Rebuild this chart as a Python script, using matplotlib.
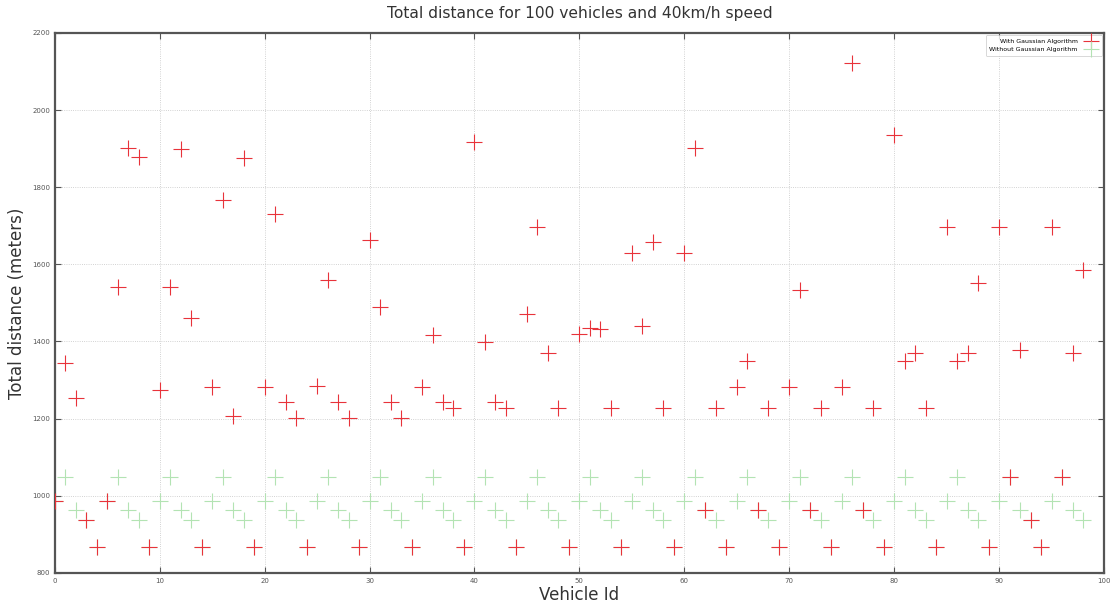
import matplotlib
matplotlib.use("Agg")
import matplotlib.pyplot as plt

# Vehicle ids and total travelled distance (meters) per vehicle
vehicle_ids = list(range(99))

dist_with = [
    987, 1344, 1254, 937, 867, 987, 1541, 1902, 1878, 867,
    1274, 1541, 1899, 1461, 867, 1282, 1767, 1207, 1876, 867,
    1282, 1731, 1243, 1202, 867, 1285, 1560, 1243, 1202, 867,
    1663, 1490, 1243, 1202, 867, 1282, 1417, 1243, 1228, 867,
    1917, 1399, 1243, 1228, 867, 1471, 1697, 1370, 1228, 867,
    1420, 1435, 1432, 1228, 867, 1630, 1440, 1658, 1228, 867,
    1630, 1902, 963, 1228, 867, 1282, 1350, 963, 1228, 867,
    1282, 1534, 963, 1228, 867, 1282, 2122, 963, 1228, 867,
    1936, 1350, 1370, 1228, 867, 1697, 1350, 1370, 1552, 867,
    1697, 1049, 1378, 937, 867, 1697, 1049, 1370, 1586,
]

dist_without = [
    987, 1049, 963, 937, 867, 987, 1049, 963, 937, 867,
    987, 1049, 963, 937, 867, 987, 1049, 963, 937, 867,
    987, 1049, 963, 937, 867, 987, 1049, 963, 937, 867,
    987, 1049, 963, 937, 867, 987, 1049, 963, 937, 867,
    987, 1049, 963, 937, 867, 987, 1049, 963, 937, 867,
    987, 1049, 963, 937, 867, 987, 1049, 963, 937, 867,
    987, 1049, 963, 937, 867, 987, 1049, 963, 937, 867,
    987, 1049, 963, 937, 867, 987, 1049, 963, 937, 867,
    987, 1049, 963, 937, 867, 987, 1049, 963, 937, 867,
    987, 1049, 963, 937, 867, 987, 1049, 963, 937,
]

series_labels = ["With Gaussian Algorithm", "Without Gaussian Algorithm"]
x_ticks = list(range(0, 101, 10))
y_ticks = list(range(800, 2201, 200))

fig = plt.figure(figsize=(11.18, 6.10), dpi=100)
ax = fig.add_axes([0.049, 0.061, 0.9385, 0.885])

ax.plot(vehicle_ids, dist_with, linestyle="none", marker="+", color="#e8333a",
        markersize=11, markeredgewidth=0.8, label=series_labels[0], zorder=3)
ax.plot(vehicle_ids, dist_without, linestyle="none", marker="+", color="#b3e3b3",
        markersize=11, markeredgewidth=0.8, label=series_labels[1], zorder=2)

ax.set_xlim(0, 100)
ax.set_ylim(800, 2200)
ax.set_xticks(x_ticks)
ax.set_yticks(y_ticks)
ax.tick_params(direction="in", length=4, width=0.8, labelsize=5,
               top=True, right=True, colors="#555555")
ax.grid(True, linestyle=":", linewidth=0.6, color="#c4c4c4")
for s in ax.spines.values():
    s.set_linewidth(1.6)
    s.set_color("#555555")

ax.set_title("Total distance for 100 vehicles and 40km/h speed", fontsize=11.2,
             color="#333333", pad=11)
ax.set_xlabel("Vehicle Id", fontsize=12, color="#333333", labelpad=2)
ax.set_ylabel("Total distance (meters)", fontsize=12, color="#333333", labelpad=4)

leg = ax.legend(loc="upper right", fontsize=4.5, markerfirst=False, numpoints=1,
                frameon=True, borderaxespad=0.3, handlelength=2.5,
                borderpad=0.6)
leg.get_frame().set_edgecolor("#bbbbbb")
leg.get_frame().set_linewidth(0.5)

fig.savefig("out.png", dpi=100, facecolor="white")
